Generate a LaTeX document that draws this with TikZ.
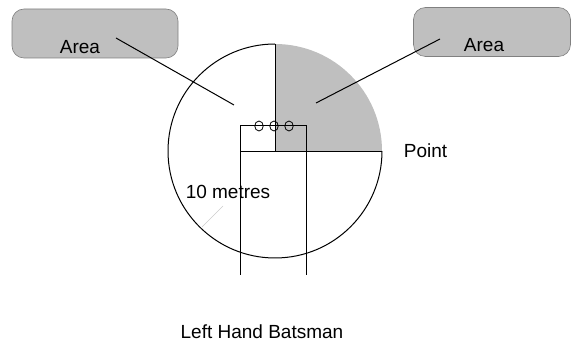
\documentclass[tikz,border=0pt]{standalone}
\usepackage{fontspec}
\setmainfont{Liberation Sans}
\usepackage{tikz}
\usetikzlibrary{
  arrows.meta,
  positioning,
  shapes.geometric
}

\begin{document}
\begin{tikzpicture}[
  x=1pt, y=-1pt,
  every node/.style={font=\fontsize{19}{22}\selectfont, inner sep=0pt},
  areabox/.style={draw=gray, line width=0.6pt, fill=gray!50, rounded corners=12pt,
                  minimum width=#1, minimum height=49pt},
  pointer/.style={line width=1pt},
  crease/.style={line width=0.9pt},
  stump/.style={draw, ellipse, line width=0.8pt, minimum width=8.5pt, minimum height=10pt},
]
  \useasboundingbox (0,0) rectangle (571,347);

  % Callout boxes
  \node[areabox=166pt] (areaL) at (95,33.5) {};
  \node (areaLtxt) at (80,47.5) {Area};
  \node[areabox=157pt] (areaR) at (492,32) {};
  \node (areaRtxt) at (484,45) {Area};

  % Field and shaded quarter
  \coordinate (centre) at (275,151);
  \fill[gray!50] (centre) -- (275,44) arc[start angle=270, end angle=360, radius=107] -- cycle;
  \draw[line width=1pt] (382,151) arc[start angle=0, end angle=270, radius=107];
  \draw[crease] (275,44) -- (centre);
  \draw[crease] (centre) -- (382,151);

  % Pitch
  \coordinate (pitchTL) at (240,125);
  \coordinate (pitchTR) at (306,125);
  \coordinate (pitchBL) at (240,275);
  \coordinate (pitchBR) at (306,275);
  \draw[crease] (pitchBL) -- (pitchTL) -- (pitchTR) -- (pitchBR);
  \draw[crease] (240,151) -- (306,151);

  % Stumps
  \node[stump] (stumpA) at (259,126) {};
  \node[stump] (stumpB) at (274,126) {};
  \node[stump] (stumpC) at (289,126) {};

  % Labels
  \node (radius) at (228,192) {10 metres};
  \node (point) at (425.5,151) {Point};
  \node (batsman) at (262,332) {Left Hand Batsman};

  \coordinate (radIn) at (223,206);
  \coordinate (radOut) at (202,227);
  \draw[gray!40, line width=0.5pt] (radIn) -- (radOut);

  % Pointers from the boxes
  \coordinate (areaLfrom) at (116,38);
  \coordinate (areaLto) at (234,105);
  \coordinate (areaRfrom) at (440,39);
  \coordinate (areaRto) at (316,103);
  \draw[pointer] (areaLfrom) -- (areaLto);
  \draw[pointer] (areaRfrom) -- (areaRto);
\end{tikzpicture}
\end{document}
